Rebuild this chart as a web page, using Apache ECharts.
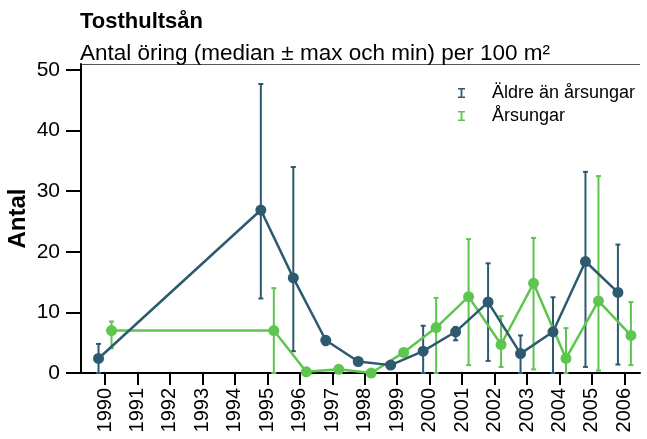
<!DOCTYPE html>
<html>
<head>
<meta charset="utf-8">
<script src="https://cdn.jsdelivr.net/npm/echarts@6/dist/echarts.min.js"></script>
<style>
  html, body { margin: 0; padding: 0; background: #fff; }
  #chart { width: 647px; height: 439px; }
</style>
</head>
<body>
<div id="chart"></div>
<script>
// Tosthultsån - antal öring per 100 m2
const years = [1990, 1995, 1996, 1997, 1998, 1999, 2000, 2001, 2002, 2003, 2004, 2005, 2006];
const tickYears = [1990, 1991, 1992, 1993, 1994, 1995, 1996, 1997, 1998, 1999, 2000, 2001, 2002, 2003, 2004, 2005, 2006];

const olderMedian = [2.4, 26.9, 15.7, 5.4, 1.9, 1.3, 3.6, 6.8, 11.7, 3.2, 6.8, 18.4, 13.3];
const olderMax    = [4.8, 47.7, 34.0, 6.0, 1.9, 1.3, 7.8, 7.6, 18.1, 6.2, 12.5, 33.2, 21.2];
const olderMin    = [0,   12.3, 3.6,  4.6, 1.9, 1.3, 0,   5.4, 2.0,  0,   0,    1.0,  1.4];

const yoyMedian = [7.0, 7.0,  0.2, 0.6, 0.0, 3.4, 7.5,  12.6, 4.7, 14.8, 2.4, 11.9, 6.2];
const yoyMax    = [8.5, 14.0, 0.2, 1.1, 0.0, 3.4, 12.4, 22.1, 9.4, 22.3, 7.4, 32.5, 11.7];
const yoyMin    = [4.1, 0,    0.2, 0.2, 0.0, 3.4, 0,    1.3,  1.0, 0.6,  0,   0.4,  1.3];

const BLUE = '#2d5a6e';
const GREEN = '#5ec550';
const FONT = 'Liberation Sans, Arial, sans-serif';
const barIcon = 'path://M0,0h7v1.5h-2.6v7h2.6v1.5h-7v-1.5h2.6v-7h-2.6z';

function errorBar(params, api) {
  const x = api.value(0);
  const top = api.coord([x, api.value(2)]);
  const bot = api.coord([x, api.value(1)]);
  const style = { stroke: api.visual('color'), lineWidth: 2 };
  return {
    type: 'group',
    children: [
      { type: 'line', shape: { x1: top[0], y1: top[1], x2: bot[0], y2: bot[1] }, style },
      { type: 'line', shape: { x1: top[0] - 2.5, y1: top[1], x2: top[0] + 2.5, y2: top[1] }, style },
      { type: 'line', shape: { x1: bot[0] - 2.5, y1: bot[1], x2: bot[0] + 2.5, y2: bot[1] }, style }
    ]
  };
}

const chart = echarts.init(document.getElementById('chart'));
chart.setOption({
  animation: false,
  textStyle: { fontFamily: FONT },
  title: [
    { text: 'Tosthultsån', left: 80, top: 11, padding: 0,
      textStyle: { fontSize: 22, fontWeight: 'bold', color: '#000', fontFamily: FONT } },
    { text: 'Antal öring (median ± max och min) per 100 m²', left: 80, top: 42, padding: 0,
      textStyle: { fontSize: 22.5, fontWeight: 'normal', color: '#000', fontFamily: FONT } }
  ],
  graphic: [
    { type: 'line', shape: { x1: 80, y1: 64.5, x2: 640, y2: 64.5 },
      style: { stroke: '#555', lineWidth: 1 } }
  ],
  legend: {
    orient: 'vertical',
    left: 458, top: 84,
    padding: 0,
    itemWidth: 7, itemHeight: 10, itemGap: 5,
    textStyle: { fontSize: 18, color: '#000', fontFamily: FONT, padding: [0, 0, 0, 22] },
    data: [
      { name: 'Äldre än årsungar', icon: barIcon },
      { name: 'Årsungar', icon: barIcon }
    ]
  },
  grid: { left: 81, right: 7, top: 64, bottom: 66, outerBoundsMode: 'none', containLabel: false },
  xAxis: {
    type: 'value',
    min: 1989.26, max: 2006.48,
    splitLine: { show: false },
    axisLine: { lineStyle: { color: '#000', width: 2 } },
    axisTick: { show: true, length: 12, customValues: tickYears, lineStyle: { color: '#000', width: 2 } },
    axisLabel: { customValues: tickYears, rotate: 90, margin: 15, fontSize: 20, color: '#000',
      fontFamily: FONT, formatter: v => String(v) },
  },
  yAxis: {
    type: 'value',
    min: 0, max: 51, interval: 10,
    name: 'Antal', nameLocation: 'middle', nameGap: 51, nameMoveOverlap: false,
    nameTextStyle: { fontSize: 24, fontWeight: 'bold', color: '#000', fontFamily: FONT },
    splitLine: { show: false },
    axisLine: { show: true, lineStyle: { color: '#000', width: 2 } },
    axisTick: { show: true, length: 15, lineStyle: { color: '#000', width: 2 } },
    axisLabel: { margin: 21, fontSize: 21, color: '#000', fontFamily: FONT }
  },
  series: [
    {
      name: 'Äldre än årsungar', type: 'custom', color: BLUE,
      renderItem: errorBar, encode: { x: 0, y: [1, 2] }, z: 2,
      data: years.map((y, i) => [y - 0.2, olderMin[i], olderMax[i]])
    },
    {
      name: 'Årsungar', type: 'custom', color: GREEN,
      renderItem: errorBar, encode: { x: 0, y: [1, 2] }, z: 2,
      data: years.map((y, i) => [y + 0.2, yoyMin[i], yoyMax[i]])
    },
    {
      name: 'Årsungar', type: 'line', color: GREEN, z: 3,
      symbol: 'circle', symbolSize: 11,
      lineStyle: { width: 2.5 },
      data: years.map((y, i) => [y + 0.2, yoyMedian[i]])
    },
    {
      name: 'Äldre än årsungar', type: 'line', color: BLUE, z: 4,
      symbol: 'circle', symbolSize: 11,
      lineStyle: { width: 2.5 },
      data: years.map((y, i) => [y - 0.2, olderMedian[i]])
    }
  ]
});
</script>
</body>
</html>
